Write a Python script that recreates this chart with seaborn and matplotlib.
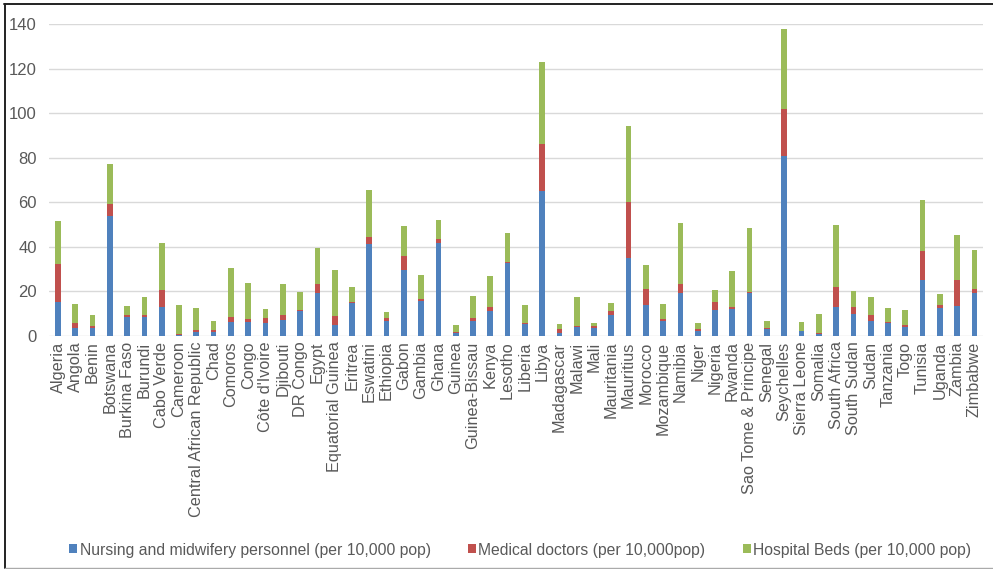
import matplotlib
matplotlib.use("Agg")
import matplotlib.pyplot as plt
from matplotlib.lines import Line2D
from matplotlib.patches import Patch
import pandas as pd
import seaborn as sns

countries = [
    "Algeria", "Angola", "Benin", "Botswana", "Burkina Faso", "Burundi",
    "Cabo Verde", "Cameroon", "Central African Republic", "Chad", "Comoros",
    "Congo", "Côte d'Ivoire", "Djibouti", "DR Congo", "Egypt",
    "Equatorial Guinea", "Eritrea", "Eswatini", "Ethiopia", "Gabon", "Gambia",
    "Ghana", "Guinea", "Guinea-Bissau", "Kenya", "Lesotho", "Liberia", "Libya",
    "Madagascar", "Malawi", "Mali", "Mauritania", "Mauritius", "Morocco",
    "Mozambique", "Namibia", "Niger", "Nigeria", "Rwanda",
    "Sao Tome & Principe", "Senegal", "Seychelles", "Sierra Leone", "Somalia",
    "South Africa", "South Sudan", "Sudan", "Tanzania", "Togo", "Tunisia",
    "Uganda", "Zambia", "Zimbabwe",
]

nurses = [
    15.4, 3.7, 3.7, 54.0, 8.7, 8.4, 12.9, 0.3, 1.9, 1.9, 6.1,
    6.1, 5.8, 7.0, 11.1, 19.1, 4.9, 14.7, 41.4, 6.9, 29.5, 15.7,
    41.9, 1.2, 6.7, 11.4, 32.6, 5.2, 65.2, 1.3, 4.2, 3.4, 9.3, 35.1, 13.9,
    6.9, 19.4, 2.4, 11.8, 12.0, 19.1, 3.0, 80.8, 2.1, 0.9,
    13.0, 9.7, 6.9, 5.8, 4.2, 25.1, 12.4, 13.3, 19.3,
]

doctors = [
    16.9, 2.3, 0.9, 5.2, 0.7, 1.0, 7.7, 0.6, 0.8, 0.8, 2.6,
    1.5, 2.3, 2.4, 0.6, 4.2, 4.0, 0.4, 3.2, 1.0, 6.5, 0.8,
    1.5, 0.7, 1.2, 1.8, 0.8, 0.5, 20.9, 1.8, 0.4, 1.2, 1.8, 25.2, 7.2,
    0.7, 4.1, 0.6, 3.6, 1.2, 0.5, 0.7, 21.1, 0.3, 0.3,
    9.1, 3.3, 2.5, 0.3, 0.6, 12.9, 1.7, 12.0, 1.9,
]

beds = [
    19.3, 8.2, 4.8, 18.0, 4.1, 7.9, 21.0, 12.9, 9.9, 3.9, 21.8,
    16.2, 4.2, 13.9, 8.0, 16.0, 20.9, 6.9, 21.1, 3.0, 13.2, 10.9,
    8.8, 3.0, 10.2, 13.9, 12.7, 8.1, 37.0, 2.1, 13.0, 1.2, 3.9, 34.1, 10.9,
    6.9, 27.2, 2.8, 5.1, 16.0, 29.0, 2.9, 35.8, 3.9, 8.7,
    27.7, 7.2, 8.2, 6.6, 6.9, 23.0, 4.7, 19.9, 17.2,
]

series_names = [
    "Nursing and midwifery personnel (per 10,000 pop)",
    "Medical doctors (per 10,000pop)",
    "Hospital Beds (per 10,000 pop)",
]
colors = ["#4F81BD", "#C0504D", "#9BBB59"]

df = pd.DataFrame({
    "country": countries,
    "nurses": nurses,
    "doctors": doctors,
    "beds": beds,
})
# cumulative heights for the stacked layers
df["layer1"] = df["nurses"]
df["layer2"] = df["nurses"] + df["doctors"]
df["layer3"] = df["layer2"] + df["beds"]

sns.set_theme(style="white")
plt.rcParams["font.family"] = ["Liberation Sans", "DejaVu Sans"]

fig = plt.figure(figsize=(9.93, 5.69), dpi=100)
ax = fig.add_axes([0.0497, 0.4095, 0.9403, 0.5484])

# draw tallest layer first so lower segments sit on top of it
for col, c in zip(["layer3", "layer2", "layer1"], colors[::-1]):
    sns.barplot(data=df, x="country", y=col, order=countries, color=c,
                width=0.33, saturation=1, ax=ax, edgecolor="none",
                errorbar=None)

ax.set_ylim(0, 140)
ax.set_xlim(-0.5, len(countries) - 0.5)
ax.set_yticks(range(0, 141, 20))
ax.yaxis.grid(True, color="#D9D9D9", linewidth=1)
ax.set_axisbelow(True)
for s in ax.spines.values():
    s.set_visible(False)
ax.set_xlabel("")
ax.set_ylabel("")
ax.tick_params(axis="x", labelrotation=90, labelsize=11.7, colors="#595959",
               length=0, pad=4)
ax.tick_params(axis="y", labelsize=12, colors="#595959", length=0, pad=9)
for lbl in ax.get_xticklabels():
    lbl.set_verticalalignment("top")

handles = [Patch(facecolor=c, edgecolor="none") for c in colors]
leg = fig.legend(handles, series_names, loc="center", ncol=3,
                 bbox_to_anchor=(0.524, 1 - 550 / 569), frameon=False,
                 fontsize=11.3, handlelength=0.5, handleheight=0.5,
                 handletextpad=0.15, columnspacing=2.4)
for t in leg.get_texts():
    t.set_color("#595959")

# figure frame
fig.add_artist(Line2D([0.0045, 1.0], [1 - 3.5 / 569, 1 - 3.5 / 569],
                      transform=fig.transFigure, color="#222222", lw=1.4))
fig.add_artist(Line2D([4.5 / 993, 4.5 / 993], [1 - 567.5 / 569, 1 - 3.5 / 569],
                      transform=fig.transFigure, color="#222222", lw=1.4))
fig.add_artist(Line2D([4.5 / 993, 1.0], [1 - 567.5 / 569, 1 - 567.5 / 569],
                      transform=fig.transFigure, color="#AAAAAA", lw=1.0))

fig.savefig("out.png", dpi=100)
